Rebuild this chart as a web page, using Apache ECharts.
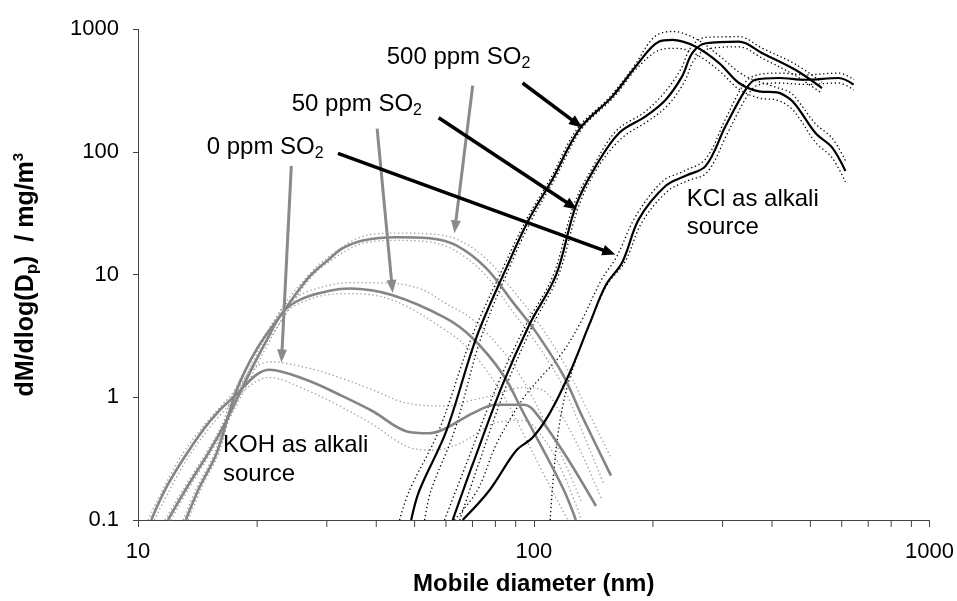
<!DOCTYPE html>
<html>
<head>
<meta charset="utf-8">
<script src="https://cdn.jsdelivr.net/npm/echarts@6/dist/echarts.min.js"></script>
<style>
  html, body { margin: 0; padding: 0; background: #fff; }
  #chart { width: 957px; height: 601px; }
</style>
</head>
<body>
<div id="chart"></div>
<script>
// mobile diameter (nm) vs dM/dlog(Dp) (mg/m3)
// KOH as alkali source (grey)
const koh0 = [[10.8,0.1],[11.8,0.185],[13.3,0.35],[15.2,0.64],[17.4,1.0],[21.5,1.68],[26.6,1.39],[32.3,1.05],[39.2,0.77],[47.6,0.53],[54.5,0.51],[60,0.56],[70,0.74],[80.3,0.87],[93.8,0.87],[99.3,0.8],[118,0.37],[143.6,0.13]];
const koh0Up = [[10.6,0.1],[13.0,0.35],[17.0,1.0],[21.5,1.95],[26.6,1.75],[32.3,1.45],[39.2,1.15],[47.6,0.9],[60,0.85],[70,0.95],[80,1.05],[93.8,1.2],[105,1.15],[118,0.7],[135,0.3],[148,0.15]];
const koh0Lo = [[11.0,0.1],[13.6,0.35],[17.8,1.0],[21.5,1.45],[26.6,1.15],[32.3,0.85],[39.2,0.6],[47.6,0.4],[55,0.37],[65,0.42],[80.3,0.62],[93.8,0.65],[105,0.48],[118,0.25],[132,0.1]];

const koh50 = [[11.9,0.1],[13.3,0.185],[15.2,0.37],[16.7,0.64],[19,1.5],[21,2.8],[23.3,5.0],[26.1,6.4],[30.5,7.4],[34.3,7.7],[44,6.8],[60.1,4.4],[70.1,3.03],[83.4,1.55],[93.7,0.77],[118.2,0.185],[127.8,0.1]];
const koh50Up = [[11.7,0.1],[13.1,0.185],[15.0,0.37],[16.5,0.64],[23,5.2],[26.1,7.0],[30.5,8.2],[34.3,8.6],[44,8.5],[52,7.6],[60.1,5.8],[70.1,4.3],[83.4,2.4],[93.7,1.4],[105,0.7],[118.2,0.32],[132,0.14]];
const koh50Lo = [[12.1,0.1],[13.5,0.185],[15.4,0.37],[16.9,0.64],[23.6,4.8],[26.1,6.0],[30.5,6.9],[34.3,7.0],[44,6.2],[60.1,3.5],[70.1,2.3],[83.4,1.05],[93.7,0.52],[105,0.25],[118.2,0.12],[122,0.1]];

const koh500 = [[13.2,0.1],[14.3,0.185],[15.8,0.35],[17.7,1.12],[20,2.5],[23.3,5.0],[27,9.5],[30.5,13.5],[33,16.5],[37,19],[45,20.2],[54.5,19.8],[63.7,17.3],[75.8,11.3],[88.4,6.0],[101.3,3.4],[118.2,1.55],[132.8,0.69],[156.7,0.23]];
const koh500Up = [[13.0,0.1],[14.1,0.185],[15.6,0.35],[17.5,1.12],[23,5.2],[27,10],[30.5,14.2],[37,20.5],[45,21.8],[54.5,21.5],[63.7,19.5],[75.8,13.5],[88.4,7.5],[101.3,4.3],[118.2,2.0],[132.8,0.95],[156.7,0.32]];
const koh500Lo = [[13.4,0.1],[14.5,0.185],[16,0.35],[17.9,1.12],[23.6,4.8],[27,9],[30.5,12.8],[37,18],[45,19],[54.5,18.5],[63.7,15.5],[75.8,9.8],[88.4,5.0],[101.3,2.8],[118.2,1.25],[132.8,0.52],[150,0.2]];

// KCl as alkali source (black)
const kcl0 = [[66.1,0.1],[77.2,0.174],[90.2,0.367],[99.3,0.47],[109.4,0.73],[122.9,1.55],[138,3.89],[152,8.2],[167.5,12.7],[184.5,28.5],[215.5,53],[242,64],[272,77],[305,162],[343,322],[363,388],[416,401],[486,388],[589,401],[643,354]];
const kcl0Up = [[63,0.1],[72,0.174],[80,0.4],[88,0.7],[95.5,1.05],[105,1.5],[118,2.3],[132,4.2],[148,9],[162,14],[181,30],[212,58],[240,70],[272,88],[305,185],[340,360],[363,420],[416,440],[486,425],[589,440],[643,390]];
const kcl0Lo = [[110,0.1],[113,0.3],[117,0.7],[123,1.4],[138,3.89],[153,8.2],[170,12.7],[188,27],[218,48],[244,58],[274,68],[308,140],[346,285],[368,350],[416,365],[486,355],[589,365],[643,320]];

const kcl50 = [[62.4,0.1],[70.1,0.285],[83.4,1.27],[97.4,3.89],[113.8,9.9],[127.8,36.5],[143.6,77],[164.3,143],[192,196],[215.5,267],[237,413],[251.5,639],[272,770],[330,793],[378,639],[458,468],[535,332]];
const kcl50Up = [[59.5,0.1],[67.5,0.285],[81,1.27],[95.5,3.89],[112,9.9],[126,36.5],[141.5,77],[162,150],[190,210],[213,300],[235,470],[250,720],[272,860],[330,870],[378,700],[458,520],[535,370]];
const kcl50Lo = [[65,0.1],[72.5,0.285],[85.5,1.27],[99.5,3.89],[115.5,9.9],[130,36.5],[146,77],[167,130],[195,180],[218,240],[240,370],[254,560],[275,690],[330,720],[378,580],[458,420],[535,300]];

const kcl500 = [[49,0.1],[51.4,0.174],[60.1,0.53],[71.5,3.03],[85.1,11.2],[97.4,28.5],[111.5,60],[130.3,153],[158,284],[181,498],[207,793],[224,819],[256,723],[294,530],[330,365],[371,312],[412,306],[445,268],[468,222],[515,143],[567,109],[613,70]];
const kcl500Up = [[45.8,0.1],[48.5,0.174],[57.5,0.53],[69.5,3.03],[83.5,11.2],[96,28.5],[110,60],[128.5,153],[156,284],[179,498],[202,870],[224,960],[256,840],[294,610],[340,420],[400,345],[445,305],[468,255],[515,170],[567,130],[613,85]];
const kcl500Lo = [[53,0.1],[55,0.174],[63,0.53],[73.5,3.03],[86.5,11.2],[99,28.5],[113,60],[132,153],[160,284],[184,498],[212,690],[230,700],[256,630],[294,460],[330,325],[371,275],[412,265],[445,230],[468,190],[515,120],[567,90],[613,57]];

// annotation arrows: [from, to] in data coordinates
const arrowsKOH = [[[24.4,77.0],[23.08,2.17]], [[40.2,154.7],[43.85,8.01]], [[70.1,347],[63.3,24.5]]];
const arrowsKCl = [[[93.7,365],[128.5,170.5]], [[57.5,190],[124.7,36.4]], [[32.0,97.6],[155.1,15.2]]];

const xMinorTicks = [20,30,40,50,60,70,80,90,200,300,400,500,600,700,800,900];

const FONT = '"Liberation Sans", Arial, sans-serif';
const GREY = '#858585';
const GREY_DOT = '#9a9a9a';

function solid(name, data, color, width) {
    return {
        name: name, type: 'line', data: data, symbol: 'none', smooth: 0.35,
        lineStyle: { color: color, width: width }, z: 4, silent: true
    };
}
function dotted(name, data, color) {
    return {
        name: name, type: 'line', data: data, symbol: 'none', smooth: 0.35,
        lineStyle: { color: color, width: 1.3, type: [1.3, 2.7] }, z: 3, silent: true
    };
}
function arrows(list, color, width, size) {
    return {
        type: 'line', data: [], silent: true,
        markLine: {
            silent: true, animation: false,
            symbol: ['none', 'triangle'], symbolSize: size,
            label: { show: false },
            lineStyle: { color: color, width: width, type: 'solid' },
            emphasis: { disabled: true },
            data: list.map(a => [{ coord: a[0] }, { coord: a[1] }])
        }
    };
}

const subRich = {
    s: { fontSize: 16, fontFamily: FONT, verticalAlign: 'bottom', lineHeight: 16 }
};
function note(text, x, yTop) {
    return {
        type: 'text', x: x, y: yTop, silent: true,
        style: {
            text: text, fontSize: 24, fontFamily: FONT, fill: '#000',
            lineHeight: 28.4, align: 'left', verticalAlign: 'top', rich: subRich
        }
    };
}
function tickText(v) {
    return String(+Number(v).toPrecision(6));
}

const chart = echarts.init(document.getElementById('chart'), null, { renderer: 'canvas' });

chart.setOption({
    animation: false,
    backgroundColor: '#fff',
    grid: { left: 138, top: 29.3, width: 793, height: 494, containLabel: false },
    xAxis: {
        type: 'log', logBase: 10, min: 10, max: 1000,
        name: 'Mobile diameter (nm)', nameLocation: 'middle', nameGap: 52,
        nameTextStyle: { fontSize: 24, fontWeight: 'bold', fontFamily: FONT, color: '#000' },
        axisLine: { onZero: false, lineStyle: { color: '#444', width: 1 } },
        axisTick: { length: 7, lineStyle: { color: '#444' } },
        axisLabel: { fontSize: 22, fontFamily: FONT, color: '#000', margin: 21, formatter: tickText },
        splitLine: { show: false }
    },
    yAxis: {
        type: 'log', logBase: 10, min: 0.1, max: 1000,
        name: '{a|dM/dlog(D}{s|p}{a|)  / mg/m}{u|3}', nameLocation: 'middle', nameGap: 97,
        nameRotate: 90,
        nameTextStyle: {
            fontSize: 25, fontWeight: 'bold', fontFamily: FONT, color: '#000',
            rich: {
                a: { fontSize: 25, fontWeight: 'bold', fontFamily: FONT, lineHeight: 30 },
                s: { fontSize: 17, fontWeight: 'bold', fontFamily: FONT, verticalAlign: 'bottom', lineHeight: 17 },
                u: { fontSize: 15, fontWeight: 'bold', fontFamily: FONT, verticalAlign: 'top', lineHeight: 15 }
            }
        },
        axisLine: { onZero: false, lineStyle: { color: '#444', width: 1 } },
        axisTick: { length: 5, lineStyle: { color: '#444' } },
        axisLabel: { fontSize: 22, fontFamily: FONT, color: '#000', margin: 19, formatter: tickText },
        splitLine: { show: false }
    },
    series: [
        dotted('koh0Up', koh0Up, GREY_DOT), dotted('koh0Lo', koh0Lo, GREY_DOT),
        dotted('koh50Up', koh50Up, GREY_DOT), dotted('koh50Lo', koh50Lo, GREY_DOT),
        dotted('koh500Up', koh500Up, GREY_DOT), dotted('koh500Lo', koh500Lo, GREY_DOT),
        dotted('kcl0Up', kcl0Up, '#000'), dotted('kcl0Lo', kcl0Lo, '#000'),
        dotted('kcl50Up', kcl50Up, '#000'), dotted('kcl50Lo', kcl50Lo, '#000'),
        dotted('kcl500Up', kcl500Up, '#000'), dotted('kcl500Lo', kcl500Lo, '#000'),
        solid('KOH 0 ppm', koh0, GREY, 2.6),
        solid('KOH 50 ppm', koh50, GREY, 2.6),
        solid('KOH 500 ppm', koh500, GREY, 2.6),
        solid('KCl 0 ppm', kcl0, '#000', 2.2),
        solid('KCl 50 ppm', kcl50, '#000', 2.2),
        solid('KCl 500 ppm', kcl500, '#000', 2.2),
        arrows(arrowsKOH, '#8a8a8a', 3, [10, 13]),
        arrows(arrowsKCl, '#000', 3.5, [11, 13]),
        {
            type: 'custom', silent: true, z: 5,
            data: xMinorTicks.map(v => [v, 0.1]),
            encode: { x: 0, y: 1 },
            renderItem: function (params, api) {
                const p = api.coord([api.value(0), api.value(1)]);
                return {
                    type: 'line',
                    shape: { x1: p[0], y1: p[1], x2: p[0], y2: p[1] + 7 },
                    style: { stroke: '#444', lineWidth: 1 }
                };
            }
        }
    ],
    graphic: [
        note('500 ppm SO{s|2}', 386.7, 43.1),
        note('50 ppm SO{s|2}', 291.7, 89.8),
        note('0 ppm SO{s|2}', 206.7, 133.1),
        note('KOH as alkali\nsource', 223, 431.4),
        note('KCl as alkali\nsource', 686.7, 184.8)
    ]
});
</script>
</body>
</html>
